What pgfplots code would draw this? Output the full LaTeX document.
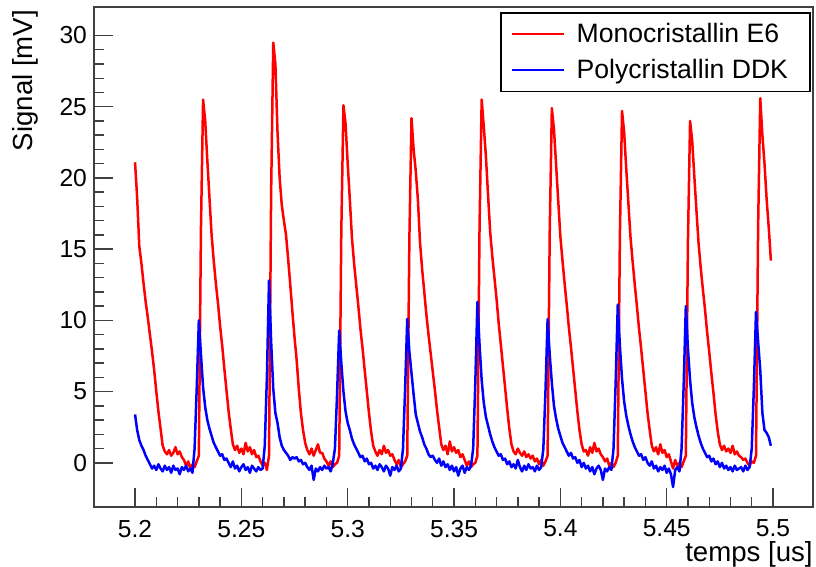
\documentclass[border=0pt]{standalone}
\usepackage{fontspec}
\setmainfont{Liberation Sans}
\usepackage{pgfplots}
\pgfplotsset{compat=1.18}
\usepackage{pgfplotstable}
\pgfplotstableread{
t r b
5.200 21.1 3.4
5.201 18.6 2.3
5.202 15.2 1.6
5.203 14.0 1.2
5.204 12.6 0.9
5.205 11.3 0.5
5.206 10.2 0.2
5.207 9.0 -0.1
5.208 7.8 -0.4
5.209 6.5 -0.2
5.210 5.0 -0.5
5.211 3.6 -0.1
5.212 2.4 -0.4
5.213 1.2 -0.6
5.214 0.8 -0.2
5.215 0.6 -0.5
5.216 0.9 -0.3
5.217 0.5 -0.7
5.218 0.7 -0.2
5.219 1.1 -0.5
5.220 0.6 -0.4
5.221 0.8 -0.8
5.222 0.4 -0.3
5.223 0.2 -0.5
5.224 -0.2 -0.2
5.225 0.1 -0.6
5.226 -0.4 -0.4
5.227 -0.1 -0.7
5.228 -0.3 1.0
5.229 0.1 5.2
5.230 0.5 10.0
5.231 16.5 7.6
5.232 25.5 5.3
5.233 24.0 3.9
5.234 21.2 3.0
5.235 18.6 2.4
5.236 16.0 1.9
5.237 14.2 1.4
5.238 12.6 1.1
5.239 11.2 0.8
5.240 9.6 0.5
5.241 8.2 0.6
5.242 6.6 0.2
5.243 5.1 0.3
5.244 3.6 0.0
5.245 2.4 -0.3
5.246 1.3 0.1
5.247 0.9 -0.4
5.248 1.2 -0.2
5.249 0.7 -0.6
5.250 1.0 -0.3
5.251 0.6 -0.1
5.252 1.4 -0.5
5.253 0.8 -0.3
5.254 1.1 -0.7
5.255 0.6 -0.2
5.256 0.9 -0.4
5.257 0.4 -0.6
5.258 0.5 -0.3
5.259 0.1 -0.5
5.260 -0.2 -0.4
5.261 0.0 1.2
5.262 -0.5 6.0
5.263 0.5 12.8
5.264 19.0 8.5
5.265 29.5 5.2
5.266 28.0 3.5
5.267 23.2 2.8
5.268 20.0 1.8
5.269 18.1 1.2
5.270 17.0 0.9
5.271 16.0 0.7
5.272 14.3 0.5
5.273 12.5 0.2
5.274 10.6 0.4
5.275 8.8 0.3
5.276 7.2 0.4
5.277 5.2 0.1
5.278 3.5 0.2
5.279 2.3 -0.1
5.280 1.4 0.0
5.281 0.9 -0.3
5.282 0.6 -0.5
5.283 1.0 -0.2
5.284 0.5 -1.2
5.285 0.9 -0.4
5.286 1.3 -0.6
5.287 0.7 -0.3
5.288 0.7 -0.5
5.289 0.3 -0.2
5.290 0.1 -0.4
5.291 -0.2 -0.3
5.292 0.1 -0.6
5.293 -0.3 0.0
5.294 -0.1 1.0
5.295 0.0 4.8
5.296 0.5 9.3
5.297 16.3 7.0
5.298 25.1 5.0
5.299 23.8 3.6
5.300 21.0 2.8
5.301 18.5 2.3
5.302 15.8 1.7
5.303 14.0 1.3
5.304 12.5 1.0
5.305 11.0 0.7
5.306 9.4 0.4
5.307 8.0 0.5
5.308 6.5 0.1
5.309 5.0 0.3
5.310 3.5 -0.1
5.311 2.2 0.0
5.312 1.2 -0.4
5.313 0.8 -0.2
5.314 0.5 -0.5
5.315 0.9 -0.1
5.316 0.6 -0.3
5.317 1.2 -0.6
5.318 0.7 -0.2
5.319 0.9 -0.4
5.320 0.5 -0.9
5.321 0.6 -0.3
5.322 0.2 -0.5
5.323 -0.1 -0.2
5.324 0.2 -0.6
5.325 -0.3 -0.4
5.326 -0.1 1.0
5.327 0.1 5.2
5.328 0.5 10.1
5.329 15.7 7.8
5.330 24.2 6.3
5.331 22.0 4.8
5.332 20.5 3.4
5.333 18.5 2.8
5.334 15.5 2.2
5.335 13.6 1.8
5.336 12.0 1.3
5.337 10.4 1.0
5.338 9.0 0.6
5.339 7.7 0.4
5.340 6.4 0.5
5.341 5.1 0.2
5.342 3.7 0.0
5.343 2.5 0.3
5.344 1.3 -0.2
5.345 0.9 0.1
5.346 1.2 -0.3
5.347 0.6 -0.1
5.348 1.5 -0.5
5.349 0.8 -0.2
5.350 1.1 -0.6
5.351 0.7 -0.3
5.352 0.9 -0.9
5.353 0.4 -0.4
5.354 0.6 -0.2
5.355 0.2 -0.7
5.356 -0.2 -0.3
5.357 0.1 -0.5
5.358 -0.3 -0.2
5.359 -0.1 1.0
5.360 0.0 5.6
5.361 0.5 11.3
5.362 16.6 8.3
5.363 25.5 5.8
5.364 23.6 4.2
5.365 21.5 3.2
5.366 18.8 2.6
5.367 16.2 2.0
5.368 14.5 1.5
5.369 13.0 1.1
5.370 11.5 0.8
5.371 9.8 0.5
5.372 8.3 0.6
5.373 6.8 0.2
5.374 5.3 0.3
5.375 3.8 -0.1
5.376 2.4 0.1
5.377 1.3 -0.3
5.378 0.8 -0.1
5.379 0.6 -0.4
5.380 1.0 0.2
5.381 0.7 -0.3
5.382 0.5 -0.6
5.383 0.8 -0.2
5.384 0.4 -0.5
5.385 0.6 -0.1
5.386 0.3 -0.4
5.387 0.5 -0.3
5.388 0.1 -0.6
5.389 0.3 -0.2
5.390 -0.1 -0.5
5.391 0.2 -0.3
5.392 -0.2 1.0
5.393 0.1 5.0
5.394 0.5 10.1
5.395 16.2 7.6
5.396 24.9 5.6
5.397 23.4 4.0
5.398 20.9 3.1
5.399 18.4 2.4
5.400 15.9 1.9
5.401 14.2 1.4
5.402 12.6 1.1
5.403 11.1 0.8
5.404 9.5 0.5
5.405 8.1 0.7
5.406 6.6 0.3
5.407 5.1 0.4
5.408 3.6 0.0
5.409 2.3 0.2
5.410 1.3 -0.3
5.411 0.8 0.0
5.412 0.9 -0.4
5.413 0.5 -0.2
5.414 1.1 -0.6
5.415 0.7 -0.3
5.416 1.4 -0.8
5.417 0.8 -0.4
5.418 1.0 -0.2
5.419 0.6 -0.5
5.420 0.4 -1.2
5.421 0.1 -0.4
5.422 0.3 -0.6
5.423 -0.2 -0.3
5.424 0.0 -0.5
5.425 -0.3 1.0
5.426 0.0 5.6
5.427 0.5 11.1
5.428 16.0 8.2
5.429 24.7 5.9
5.430 23.2 4.3
5.431 20.6 3.3
5.432 18.2 2.6
5.433 15.8 2.0
5.434 14.1 1.5
5.435 12.5 1.1
5.436 11.0 0.8
5.437 9.4 0.5
5.438 8.0 0.6
5.439 6.5 0.2
5.440 5.0 0.4
5.441 3.5 0.0
5.442 2.3 -0.2
5.443 1.2 0.1
5.444 0.8 -0.4
5.445 1.1 -0.2
5.446 0.6 -0.6
5.447 1.3 -0.3
5.448 0.7 -0.5
5.449 0.9 -0.2
5.450 0.4 -0.7
5.451 0.6 -0.4
5.452 0.1 -0.8
5.453 -0.4 -1.7
5.454 0.2 -0.5
5.455 -0.2 -0.3
5.456 0.0 -0.6
5.457 -0.3 1.0
5.458 0.1 5.5
5.459 0.5 11.0
5.460 15.6 8.0
5.461 24.0 5.8
5.462 22.6 4.2
5.463 20.1 3.2
5.464 17.7 2.5
5.465 15.4 1.9
5.466 13.7 1.4
5.467 12.2 1.0
5.468 10.8 0.7
5.469 9.2 0.4
5.470 7.8 0.5
5.471 6.3 0.1
5.472 4.9 0.3
5.473 3.4 -0.1
5.474 2.2 0.1
5.475 1.3 -0.3
5.476 0.9 0.0
5.477 1.2 -0.4
5.478 0.8 -0.2
5.479 1.0 -0.5
5.480 0.7 -0.3
5.481 1.2 -0.6
5.482 0.6 -0.2
5.483 0.8 -0.5
5.484 0.5 -0.4
5.485 0.4 -0.3
5.486 0.2 -0.6
5.487 0.3 -0.2
5.488 0.0 -0.5
5.489 -0.2 -0.3
5.490 0.1 1.0
5.491 0.0 5.3
5.492 0.5 10.6
5.493 16.6 8.5
5.494 25.6 6.5
5.495 23.0 3.5
5.496 21.0 2.3
5.497 18.5 2.1
5.498 16.5 1.8
5.499 14.2 1.2
}\datatable

\begin{document}
\begin{tikzpicture}
\path[use as bounding box] (-47pt,-30pt) rectangle (361pt,253.5pt);
\begin{axis}[
  scale only axis, width=359.5pt, height=250pt,
  at={(0pt,0pt)}, anchor=south west,
  xmin=5.1807, xmax=5.5188, ymin=-3.1, ymax=32.0,
  axis line style={draw=black!75, line width=0.7pt},
  tick pos=left, tick align=inside,
  xtick={5.2,5.25,5.3,5.35,5.4,5.45,5.5},
  xticklabels={5.2,5.25,5.3,5.35,5.4,5.45,5.5},
  ytick={0,5,10,15,20,25,30},
  yticklabels={0,5,10,15,20,25,30},
  minor x tick num=4, minor y tick num=4,
  major tick length=9.5pt, minor tick length=4.8pt,
  every tick/.style={draw=black!75, line width=0.7pt},
  tick label style={font=\fontsize{12.3}{14}\selectfont},
  xticklabel style={yshift=-3pt},
  xlabel={temps [us]}, ylabel={Signal [mV]},
  label style={font=\fontsize{13.8}{16}\selectfont},
  xlabel style={at={(axis description cs:1,-0.068)}, anchor=north east, inner sep=0pt},
  ylabel style={at={(axis description cs:-0.096,0.995)}, anchor=east, inner sep=0pt},
  legend style={at={(axis description cs:0.997,0.99)}, anchor=north east,
    draw=black, line width=0.8pt, fill=white,
    font=\fontsize{13.3}{15}\selectfont, inner xsep=5pt, inner ysep=3pt,
    row sep=3pt, /tikz/every odd column/.style={column sep=3.5pt}},
  legend cell align=left,
  legend image code/.code={\draw[#1, line width=1.2pt] plot coordinates {(0pt,0pt) (26pt,0pt)};},
]
\addplot[red, line width=1.25pt, sharp plot, line join=round] table[x=t,y=r]{\datatable};
\addlegendentry{Monocristallin E6}
\addplot[blue, line width=1.25pt, sharp plot, line join=round] table[x=t,y=b]{\datatable};
\addlegendentry{Polycristallin DDK\hspace*{4pt}}
\end{axis}
\end{tikzpicture}
\end{document}
